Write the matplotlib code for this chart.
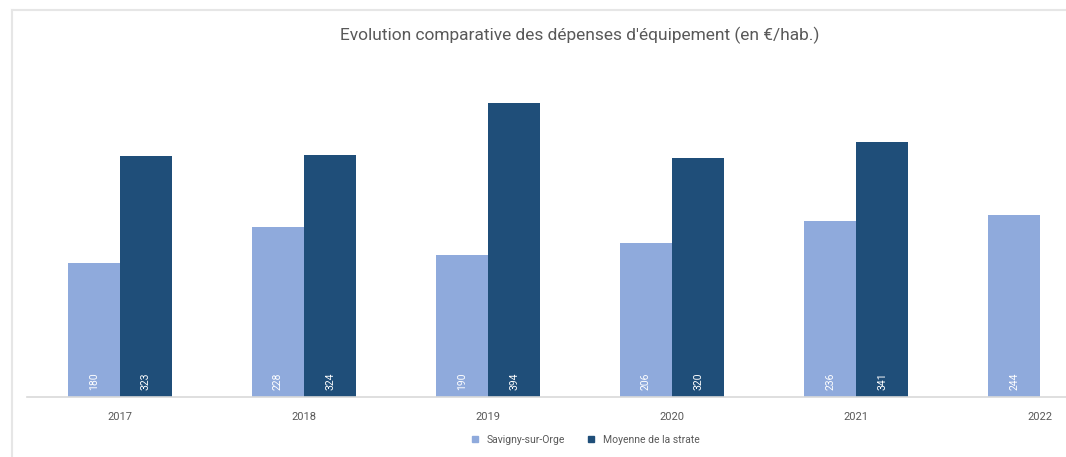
import numpy as np
import matplotlib.pyplot as plt
from matplotlib.lines import Line2D

years = ["2017", "2018", "2019", "2020", "2021", "2022"]
savigny = [180, 228, 190, 206, 236, 244]
strate = [323, 324, 394, 320, 341, np.nan]

light = "#8FAADC"
dark = "#1F4E79"
grey = "#595959"

plt.rcParams['font.family'] = ['Roboto', 'DejaVu Sans']

fig = plt.figure(figsize=(10.66, 4.57), dpi=100)
ax = fig.add_axes([0.0253, 0.1313, 0.9747, 0.7352])

x = np.arange(len(years))
w = 0.283
ax.bar(x - w / 2, savigny, w, color=light, label="Savigny-sur-Orge")
ax.bar(x + w / 2, strate, w, color=dark, label="Moyenne de la strate")

for xi, v in zip(x - w / 2, savigny):
    ax.text(xi, 10, f"{v:.0f}", rotation=90, color="white", fontsize=7.5,
            ha="center", va="bottom")
for xi, v in zip(x + w / 2, strate):
    if not np.isnan(v):
        ax.text(xi, 10, f"{v:.0f}", rotation=90, color="white", fontsize=7.5,
                ha="center", va="bottom")

ax.set_xlim(-0.505, 5.14)
ax.set_ylim(0, 450)
ax.set_xticks(x)
ax.set_xticklabels(years, fontsize=8, color=grey)
ax.tick_params(axis="x", length=0, pad=11)
ax.set_yticks([])
for s in ["top", "right", "left"]:
    ax.spines[s].set_visible(False)
ax.spines["bottom"].set_color("#D9D9D9")
ax.spines["bottom"].set_linewidth(1.2)

fig.text(0.544, 0.923, "Evolution comparative des dépenses d'équipement (en €/hab.)",
         ha="center", va="center", fontsize=12.5, color=grey)

handles = [Line2D([], [], marker="s", linestyle="", color=light, markersize=5),
           Line2D([], [], marker="s", linestyle="", color=dark, markersize=5)]
fig.legend(handles, ["Savigny-sur-Orge", "Moyenne de la strate"],
           loc="center", bbox_to_anchor=(0.546, 0.037), ncol=2, frameon=False,
           fontsize=7.5, labelcolor=grey, handletextpad=0.1, columnspacing=1.5)

# light frame around the chart
fig.add_artist(Line2D([0.0113, 1.0], [0.978, 0.978], transform=fig.transFigure,
                      color="#E6E6E6", lw=1.5))
fig.add_artist(Line2D([0.0113, 0.0113], [0.0, 0.978], transform=fig.transFigure,
                      color="#E6E6E6", lw=1.5))

fig.savefig("out.png", dpi=100)
